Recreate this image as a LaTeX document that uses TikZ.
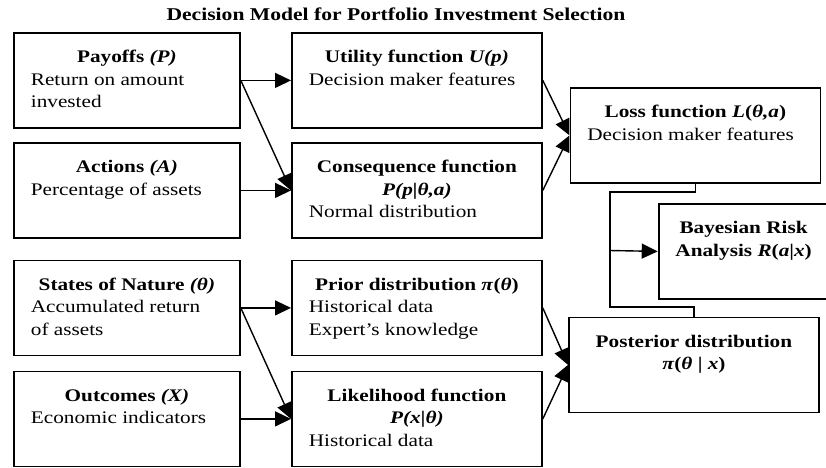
\documentclass[tikz,border=0pt]{standalone}
\usepackage{fontspec}
\setmainfont[FakeStretch=1.2]{Liberation Serif}
\usetikzlibrary{arrows.meta}
\newcommand{\cardbody}[3]{\parbox[c][95pt][t]{#1}{\fontsize{17.7}{22.5}\selectfont\centering\rule{0pt}{30pt}\textbf{#2}\par\raggedright\leftskip=17pt #3}}
\begin{document}
\begin{tikzpicture}[x=1pt,y=-1pt,
	card/.style={draw, line width=1.8pt, inner sep=0pt, anchor=north west},
	wire/.style={line width=1.4pt},
	arr/.style={wire, -{Triangle[length=16pt 0,width=15pt 0]}}]
	\useasboundingbox[fill=white] (0,0) rectangle (826,467);
	\node[anchor=base, font=\fontsize{18}{22}\selectfont\bfseries] (title) at (396,20) {Decision Model for Portfolio Investment Selection};
	
	\node[card] (pay) at (13,32) {\cardbody{226pt}{Payoffs \textit{(P)}}{Return on amount\\invested}};
	\node[card] (act) at (13,142) {\cardbody{226pt}{Actions \textit{(A)}}{Percentage of assets}};
	\node[card] (sta) at (13,259.5) {\cardbody{226pt}{States of Nature \textit{(θ)}}{Accumulated return\\of assets}};
	\node[card] (out) at (13,370.5) {\cardbody{226pt}{Outcomes \textit{(X)}}{Economic indicators}};
	
	\node[card] (uti) at (291,32) {\cardbody{250pt}{Utility function \textit{U(p)}}{Decision maker features}};
	\node[card] (con) at (291,142) {\cardbody{250pt}{Consequence function\\\textit{P(p|θ,a)}}{Normal distribution}};
	\node[card] (pri) at (291,259.5) {\cardbody{250pt}{Prior distribution \textit{π}(\textit{θ})}{Historical data\\Expert’s knowledge}};
	\node[card] (lik) at (291,370.5) {\cardbody{250pt}{Likelihood function\\\textit{P(x|θ)}}{Historical data}};
	
	\node[card] (loss) at (569.5,87) {\cardbody{250pt}{Loss function \textit{L}(\textit{θ,a})}{Decision maker features}};
	\node[card] (bay) at (657.7,203) {\cardbody{170pt}{Bayesian Risk\\Analysis \textit{R}(\textit{a}|\textit{x})}{}};
	\node[card] (post) at (568,316.5) {\cardbody{250pt}{Posterior distribution\\\textit{π}(\textit{θ} | \textit{x})}{}};
	
	\draw[arr] (pay.east) -- (uti.west);
	\draw[arr] (pay.east) -- (con.west);
	\draw[arr] (act.east) -- (con.west);
	\draw[arr] (uti.east) -- (loss.west);
	\draw[arr] (con.east) -- (loss.west);
	
	\draw[arr] (sta.east) -- (pri.west);
	\draw[arr] (sta.east) -- (lik.west);
	\draw[arr] (out.east) -- (lik.west);
	\draw[arr] (pri.east) -- (post.west);
	\draw[arr] (lik.east) -- (post.west);
	
	\coordinate (tl) at (610,192);
	\coordinate (split) at (610,250.5);
	\coordinate (bl) at (610,307);
	\draw[wire] (loss.south) |- (tl) -- (bl) -| (post.north);
	\draw[arr] (split) -- (bay.west);
\end{tikzpicture}
\end{document}
